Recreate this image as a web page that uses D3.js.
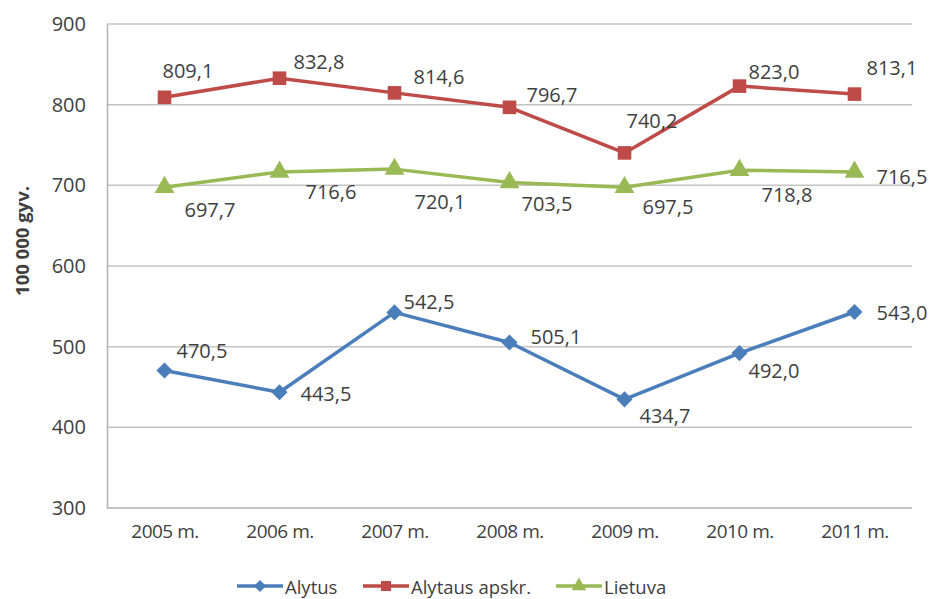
<!DOCTYPE html>
<html>
<head>
<meta charset="utf-8">
<script src="https://cdn.jsdelivr.net/npm/d3@7"></script>
<style>
  html, body { margin: 0; padding: 0; background: #fff; }
  svg { display: block; }
  text { font-family: "Open Sans", "Noto Sans", sans-serif; fill: #404040; }
</style>
</head>
<body>
<svg id="chart" width="930" height="599"></svg>
<script>
// ---- data ----
const categories = ["2005 m.", "2006 m.", "2007 m.", "2008 m.", "2009 m.", "2010 m.", "2011 m."];
const alytus = [470.5, 443.5, 542.5, 505.1, 434.7, 492.0, 543.0];
const alytausApskr = [809.1, 832.8, 814.6, 796.7, 740.2, 823.0, 813.1];
const lietuva = [697.7, 716.6, 720.1, 703.5, 697.5, 718.8, 716.5];
const yTicks = [300, 400, 500, 600, 700, 800, 900];
const seriesNames = ["Alytus", "Alytaus apskr.", "Lietuva"];
const yTitle = "100 000 gyv.";

// label placement (offset of label's left edge / vertical centre from the point)
const labelOffsets = [
  [[12,-20],[21,1],[9,-11],[21,-6],[15,16],[9,17],[22,1]],
  [[-2,-27],[14,-17],[19,-16],[17,-13],[2,-32],[9,-15],[12,-27]],
  [[20,22],[26,20],[20,32],[12,21],[18,19],[22,24],[22,4]]
];

const colors = ["#4A7EBB", "#BE4B48", "#98B954"];
const markers = ["diamond", "square", "triangle"];
const markerSizes = [130, 185, 170];

const series = [alytus, alytausApskr, lietuva].map((vals, i) => ({
  name: seriesNames[i], values: vals, color: colors[i], marker: markers[i], size: markerSizes[i], offsets: labelOffsets[i]
}));

function markerPath(type, size) {
  if (type === "triangle") return d3.symbol().type(d3.symbolTriangle).size(size)();
  return d3.symbol().type(d3.symbolSquare).size(size)();
}
function markerRot(type) { return type === "diamond" ? " rotate(45)" : ""; }

const svg = d3.select("#chart");
const pLeft = 107, pRight = 912, pTop = 24, pBottom = 508;

const x = d3.scalePoint().domain(categories).range([pLeft, pRight]).padding(0.5);
const y = d3.scaleLinear().domain([300, 900]).range([pBottom, pTop]);

// gridlines
svg.append("g").selectAll("line").data(yTicks.filter(t => t !== 300)).join("line")
  .attr("x1", pLeft).attr("x2", pRight)
  .attr("y1", d => y(d)).attr("y2", d => y(d))
  .attr("stroke", "#c4c4c4").attr("stroke-width", 1.5);

// axes
const yAxis = d3.axisLeft(y).tickValues(yTicks).tickSize(0).tickPadding(21).tickFormat(d3.format("d"));
const gy = svg.append("g").attr("transform", `translate(${pLeft},0)`).call(yAxis);
gy.select(".domain").attr("stroke", "#b0b0b0").attr("stroke-width", 1.5);
gy.selectAll("text").attr("font-size", 20).attr("font-family", "Open Sans").attr("fill", "#404040");

const xAxis = d3.axisBottom(x).tickSize(0).tickPadding(17);
const gx = svg.append("g").attr("transform", `translate(0,${pBottom})`).call(xAxis);
gx.select(".domain").attr("stroke", "#b0b0b0").attr("stroke-width", 1.5)
  .attr("d", `M${pLeft},0H${pRight}`);
gx.selectAll("text").attr("font-size", 19).attr("font-family", "Open Sans").attr("fill", "#404040").attr("letter-spacing", -0.5);

// y title
svg.append("text")
  .attr("transform", `translate(21,241) rotate(-90)`)
  .attr("text-anchor", "middle").attr("dominant-baseline", "central")
  .attr("font-size", 18.5).attr("font-weight", "bold")
  .text(yTitle);

// lines
const line = d3.line().x((d, i) => x(categories[i])).y(d => y(d));
series.forEach(s => {
  svg.append("path").datum(s.values)
    .attr("d", line).attr("fill", "none")
    .attr("stroke", s.color).attr("stroke-width", 3.5).attr("stroke-linejoin", "round");
});

// markers
series.forEach(s => {
  svg.append("g").selectAll("path").data(s.values).join("path")
    .attr("transform", (d, i) => `translate(${x(categories[i])},${y(d)})${markerRot(s.marker)}`)
    .attr("d", markerPath(s.marker, s.size))
    .attr("fill", s.color);
});

// data labels
const fmt = v => d3.format(".1f")(v).replace(".", ",");
series.forEach(s => {
  svg.append("g").selectAll("text").data(s.values).join("text")
    .attr("x", (d, i) => x(categories[i]) + s.offsets[i][0])
    .attr("y", (d, i) => y(d) + s.offsets[i][1])
    .attr("dominant-baseline", "central")
    .attr("font-size", 20)
    .text(d => fmt(d));
});

// legend
const legendX = [237, 363, 556];
const leg = svg.append("g");
series.forEach((s, i) => {
  const g = leg.append("g").attr("transform", `translate(${legendX[i]},586)`);
  g.append("line").attr("x1", 0).attr("x2", 46).attr("y1", 0).attr("y2", 0)
    .attr("stroke", s.color).attr("stroke-width", 3.5);
  g.append("path").attr("transform", `translate(23,0)${markerRot(s.marker)}`)
    .attr("d", markerPath(s.marker, s.size * 0.55)).attr("fill", s.color);
  g.append("text").attr("x", 48).attr("y", 0).attr("dominant-baseline", "central")
    .attr("font-size", 18.5).text(s.name);
});
</script>
</body>
</html>
